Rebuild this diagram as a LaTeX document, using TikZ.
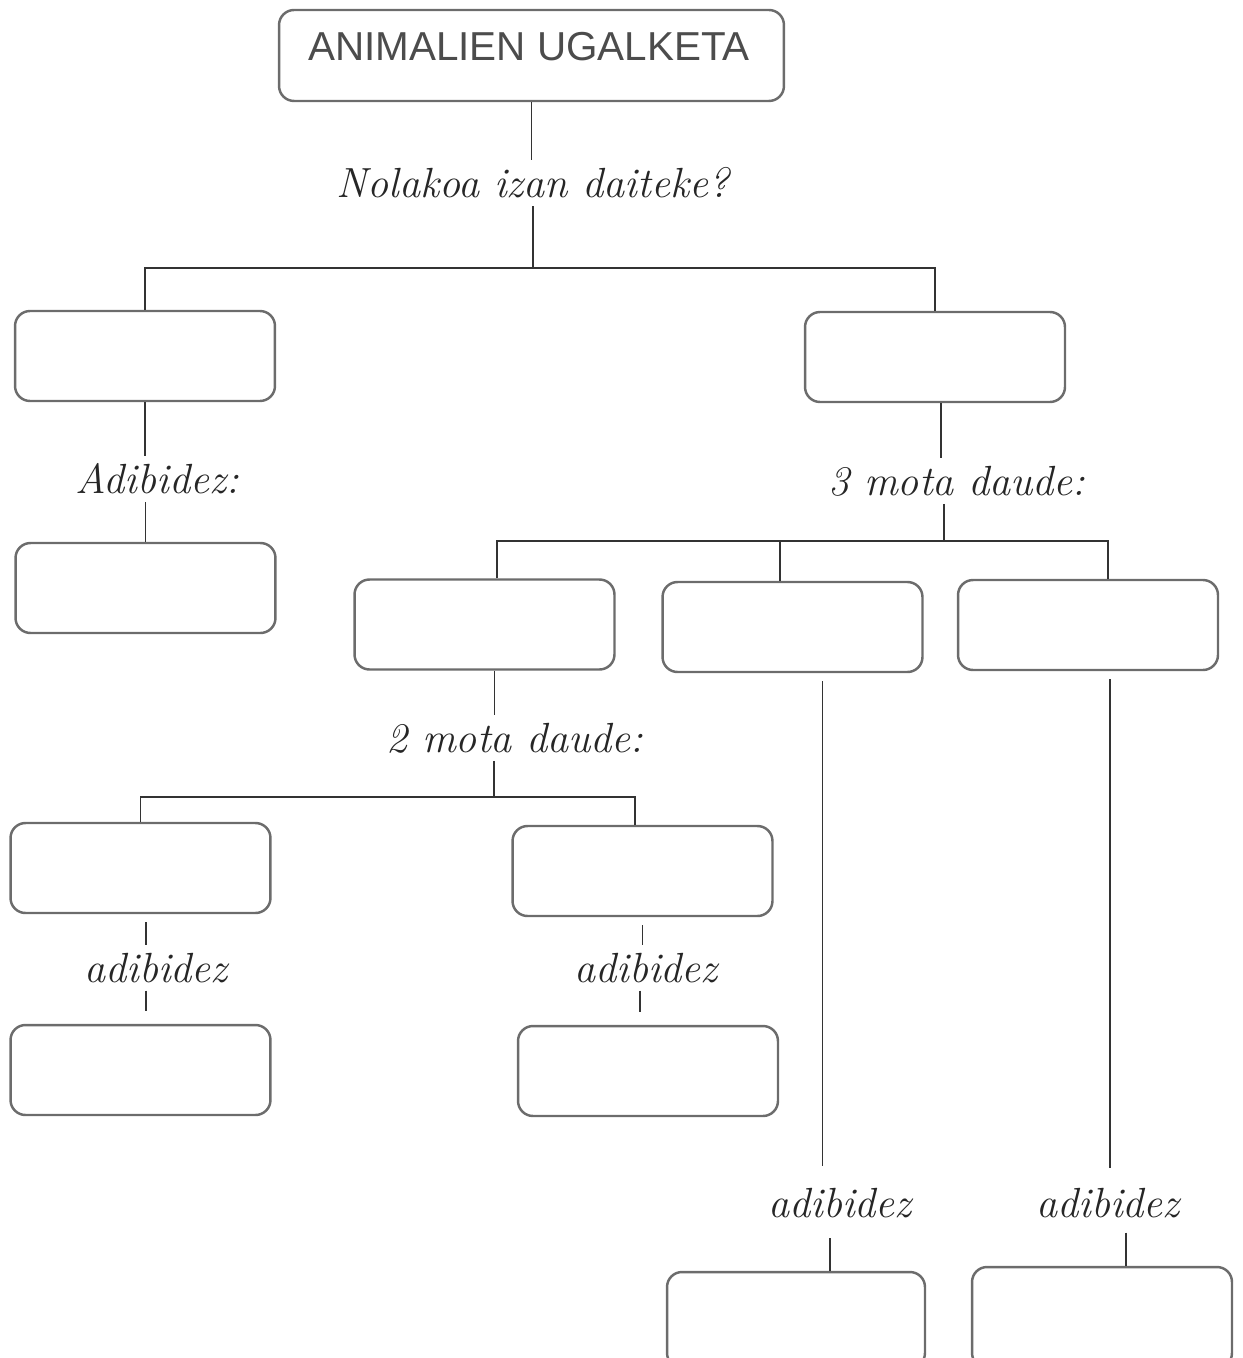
\documentclass[tikz,border=0pt]{standalone}
\usepackage{fontspec}
\newfontfamily\titlefont{Liberation Sans}

\tikzset{
  blank/.style={draw=gray!85!black, line width=1.4pt, rounded corners=0.3cm,
    minimum width=5.2cm, minimum height=1.8cm, inner sep=0pt},
  cue/.style={font=\fontsize{24}{28}\selectfont\itshape, text=black!85, inner sep=0.15cm},
  link/.style={draw=black!80, line width=0.9pt},
  gapstart/.style={link, shorten <=0.16cm},
  gapend/.style={link, shorten >=0.26cm}
}

\begin{document}
\begin{tikzpicture}[x=0.02cm,y=-0.02cm]
  \useasboundingbox (0,0) rectangle (1242,1358);

  % title
  \node[blank, minimum width=10.1cm, minimum height=1.82cm] (title) at (531.5,55.5) {};
  \node[font=\titlefont\fontsize{23}{27}\selectfont, text=black!70] (titletxt) at (529,47) {ANIMALIEN UGALKETA};

  % boxes
  \node[blank] (L1) at (145,356) {};
  \node[blank] (R1) at (935,357) {};
  \node[blank] (L2) at (145.5,588) {};
  \node[blank] (M1) at (484.5,624.5) {};
  \node[blank] (M2) at (792.5,627) {};
  \node[blank] (M3) at (1088,625) {};
  \node[blank] (A) at (140.5,868) {};
  \node[blank] (B) at (642.5,871) {};
  \node[blank] (A2) at (140.5,1070) {};
  \node[blank] (B2) at (648,1071) {};
  \node[blank, minimum width=5.16cm, minimum height=1.92cm] (C2) at (796,1320) {};
  \node[blank, minimum height=2.02cm] (D2) at (1102,1317.5) {};

  % cues
  \node[cue] (q1) at (533,183) {Nolakoa izan daiteke?};
  \node[cue] (ex) at (157,479) {Adibidez:};
  \node[cue] (q3) at (957,481) {3 mota daude:};
  \node[cue] (q2) at (515,738) {2 mota daude:};
  \node[cue] (qa) at (156,968) {adibidez};
  \node[cue] (qb) at (646,968) {adibidez};
  \node[cue] (qc) at (840,1203) {adibidez};
  \node[cue] (qd) at (1108,1203) {adibidez};

  % forks
  \coordinate (fork1) at (533,268);
  \coordinate (fork2) at (944,541);
  \coordinate (fork3) at (494,797);

  % connectors
  \draw[link] (title.south) -- (title.south |- q1.north);
  \draw[link] (q1.south) -- (fork1);
  \draw[link] (L1.north) |- (fork1) -| (R1.north);

  \draw[link] (L1.south) -- (L1.south |- ex.north);
  \draw[link] (L2.north |- ex.south) -- (L2.north);

  \draw[link] ([xshift=0.12cm]R1.south) -- ([xshift=0.12cm]R1.south |- q3.north);
  \draw[link] (fork2 |- q3.south) -- (fork2);
  \draw[link] ([xshift=0.25cm]M1.north) |- (fork2) -| ([xshift=0.4cm]M3.north);
  \draw[link] ([xshift=-0.25cm]M2.north) -- ([xshift=-0.25cm]M2.north |- fork2);

  \draw[link] ([xshift=0.2cm]M1.south) -- ([xshift=0.2cm]M1.south |- q2.north);
  \draw[link] (fork3 |- q2.south) -- (fork3);
  \draw[link] (A.north) |- (fork3) -| ([xshift=-0.15cm]B.north);

  \draw[gapstart] ([xshift=0.11cm]A.south) -- ([xshift=0.11cm]A.south |- qa.north);
  \draw[gapend] ([xshift=0.11cm]A2.north |- qa.south) -- ([xshift=0.11cm]A2.north);
  \draw[gapstart] (B.south) -- (B.south |- qb.north);
  \draw[gapend] ([xshift=-0.16cm]B2.north |- qb.south) -- ([xshift=-0.16cm]B2.north);

  \draw[gapstart, shorten >=0.28cm] ([xshift=0.6cm]M2.south) -- ([xshift=0.6cm]M2.south |- qc.north);
  \draw[link, shorten <=0.25cm] ([xshift=0.68cm]C2.north |- qc.south) -- ([xshift=0.68cm]C2.north);
  \draw[gapstart, shorten >=0.24cm] ([xshift=0.44cm]M3.south) -- ([xshift=0.44cm]M3.south |- qd.north);
  \draw[link, shorten <=0.14cm] ([xshift=0.48cm]D2.north |- qd.south) -- ([xshift=0.48cm]D2.north);
\end{tikzpicture}
\end{document}
